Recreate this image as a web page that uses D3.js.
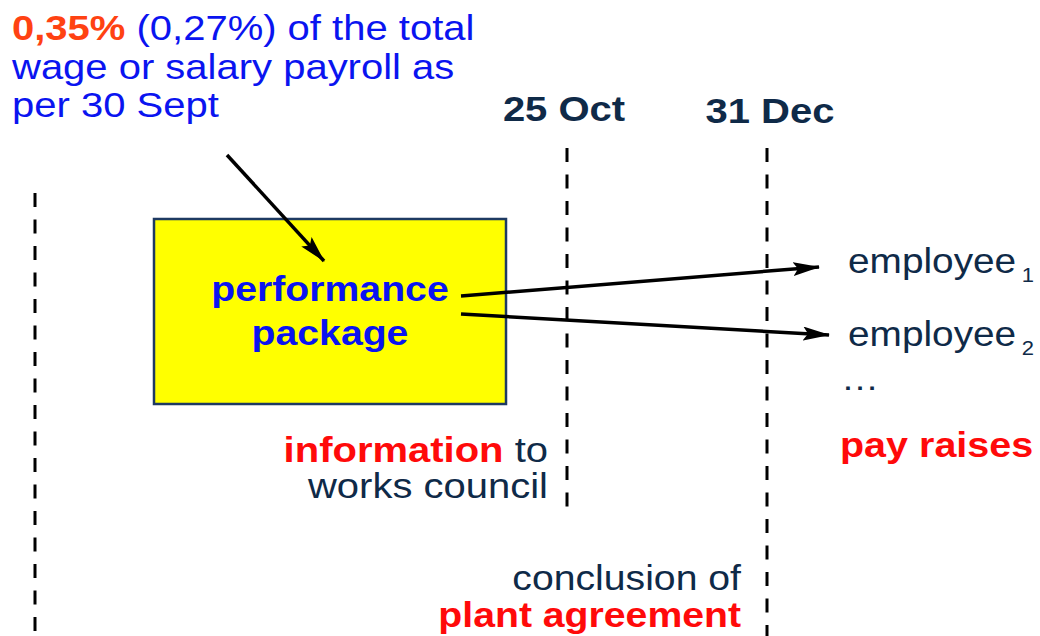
<!DOCTYPE html>
<html><head><meta charset="utf-8">
<script src="https://cdn.jsdelivr.net/npm/d3@7"></script>
<style>
html,body{margin:0;padding:0;background:#fff;}
svg{display:block;font-family:"Liberation Sans",Arial,sans-serif;}
</style></head>
<body><svg id="c" width="1040" height="636"></svg>
<script>
// ---- data ----
const milestones = ["30 Sept", "25 Oct", "31 Dec"];
const milestoneLabels = ["", "25 Oct", "31 Dec"];
const budgetText = [
  [{t:"0,35%", s:"hi"}, {t:" (0,27%) of the total", s:"blue"}],
  [{t:"wage or salary payroll as", s:"blue"}],
  [{t:"per 30 Sept", s:"blue"}]
];
const packageLines = ["performance", "package"];
const recipients = [{name:"employee", sub:"1"}, {name:"employee", sub:"2"}];
const infoLines = [
  [{t:"information", s:"red"}, {t:" to", s:"navy"}],
  [{t:"works council", s:"navy"}]
];
const agreementLines = [
  [{t:"conclusion of", s:"navy"}],
  [{t:"plant agreement", s:"red"}]
];
const raiseLabel = "pay raises";

// ---- layout ----
const W = 1040, H = 636;
const SX = 1.12;           // horizontal stretch of the original slide
const svg = d3.select("#c");
const colors = {hi:"#ff4212", blue:"#0a14f0", red:"#ff0a0a", navy:"#0f2a48", line:"#000", pkg:"#0a14f0"};
const weights = {hi:"bold", blue:"normal", red:"bold", navy:"normal", pkg:"bold"};

const x = d3.scaleOrdinal().domain(milestones).range([35, 567, 767]);
const lineSpans = {"30 Sept":[193, H], "25 Oct":[148, 516], "31 Dec":[148, H]};

// stretched text line helper: spans = [{t,s}], fw = width-equivalent font size
function textLine(parent, spans, xPos, yPos, anchor, fw) {
  const g = parent.append("g").attr("transform", `translate(${xPos},${yPos}) scale(${SX},1)`);
  const t = g.append("text").attr("x", 0).attr("y", 0)
    .attr("text-anchor", anchor).attr("font-size", fw / SX);
  t.selectAll("tspan").data(spans).join("tspan")
    .attr("fill", d => colors[d.s]).attr("font-weight", d => weights[d.s])
    .style("white-space", "pre")
    .text(d => d.t);
  return t;
}

// dashed milestone lines
svg.append("g").selectAll("line").data(milestones).join("line")
  .attr("x1", d => x(d)).attr("x2", d => x(d))
  .attr("y1", d => lineSpans[d][0]).attr("y2", d => lineSpans[d][1])
  .attr("stroke", colors.line).attr("stroke-width", 3)
  .attr("stroke-dasharray", "14,12.5");

// milestone labels
const lg = svg.append("g");
milestones.forEach((d, i) => {
  if (!milestoneLabels[i]) return;
  textLine(lg, [{t:milestoneLabels[i], s:"navy"}], x(d) + (d === "31 Dec" ? 3 : -3),
    d === "31 Dec" ? 123 : 121, "middle", 40).attr("font-weight", "bold")
    .selectAll("tspan").attr("font-weight", "bold");
});

// arrow marker
const defs = svg.append("defs");
defs.append("marker").attr("id", "ah").attr("markerUnits", "userSpaceOnUse")
  .attr("viewBox", "0 0 27 14").attr("refX", 26).attr("refY", 7)
  .attr("markerWidth", 27).attr("markerHeight", 14).attr("orient", "auto")
  .append("path").attr("d", "M0,0 L27,7 L0,14 L5,7 Z").attr("fill", "#000");

// box
const box = {x0:154, y0:219, x1:506, y1:404};
svg.append("rect").attr("x", box.x0).attr("y", box.y0)
  .attr("width", box.x1 - box.x0).attr("height", box.y1 - box.y0)
  .attr("fill", "#ffff00").attr("stroke", "#1e3a62").attr("stroke-width", 2.5);

const pg = svg.append("g");
packageLines.forEach((d, i) => textLine(pg, [{t:d, s:"pkg"}], 330, 301 + i * 44, "middle", 39.2));

// budget text
const bg = svg.append("g");
budgetText.forEach((ln, i) => textLine(bg, ln, 12, 40 + i * 38.5, "start", 40));

// arrows
const arrows = [
  {from:[227,155], to:[324,261]},
  {from:[461,296], to:[819,267]},
  {from:[461,314], to:[829,335]}
];
svg.append("g").selectAll("line").data(arrows).join("line")
  .attr("x1", d => d.from[0]).attr("y1", d => d.from[1])
  .attr("x2", d => d.to[0]).attr("y2", d => d.to[1])
  .attr("stroke", "#000").attr("stroke-width", 3.5)
  .attr("marker-end", "url(#ah)");

// recipients
const rg = svg.append("g");
recipients.forEach((r, i) => {
  const t = textLine(rg, [{t:r.name, s:"navy"}], 848, 273 + i * 73, "start", 38.8);
  t.append("tspan").attr("fill", colors.navy).attr("font-size", 22 / SX)
    .attr("dx", 5).attr("dy", 9).text(r.sub);
});
textLine(rg, [{t:"\u2026", s:"navy"}], 841, 390, "start", 38);

const pr = svg.append("g");
textLine(pr, [{t:raiseLabel, s:"red"}], 840, 457, "start", 39.5);

const ig = svg.append("g");
infoLines.forEach((ln, i) => textLine(ig, ln, 548, 462 + i * 36, "end", 40));
const ag = svg.append("g");
agreementLines.forEach((ln, i) => textLine(ag, ln, 741, 590 + i * 37, "end", 39.2));
</script></body></html>
